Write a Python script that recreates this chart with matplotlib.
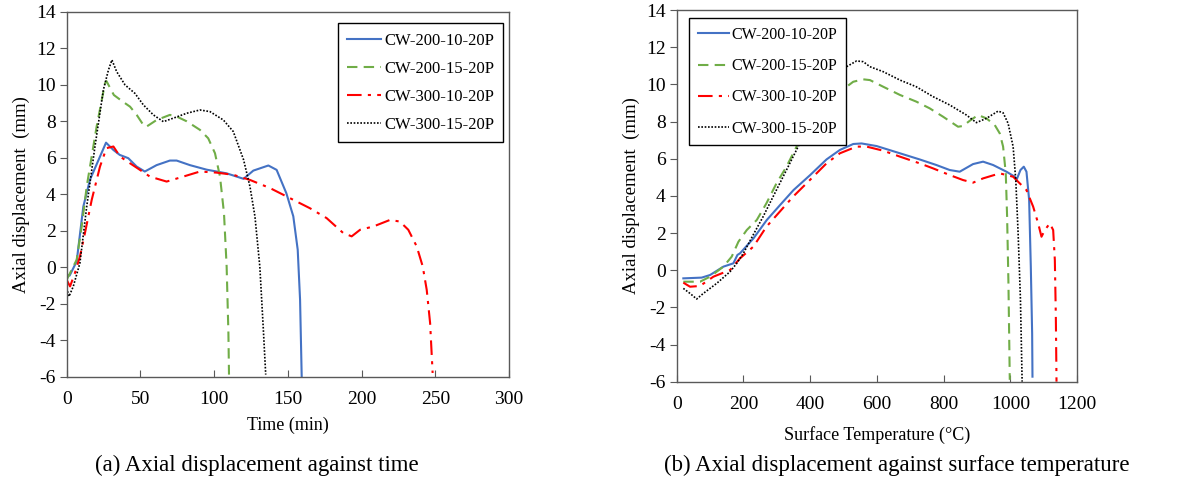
"""Axial displacement of CW specimens against time and surface temperature."""

import matplotlib

matplotlib.use("Agg")
import matplotlib.pyplot as plt

plt.rcParams["font.family"] = ["Liberation Serif", "DejaVu Serif"]
plt.rcParams["axes.unicode_minus"] = False

LABELS = ["CW-200-10-20P", "CW-200-15-20P", "CW-300-10-20P", "CW-300-15-20P"]
COLORS = ["#4472C4", "#70AD47", "#FF0000", "#000000"]
STYLES = ["-", (0, (5, 3)), (0, (7, 3, 1.5, 3)), (0, (1, 1))]
WIDTHS = [1.5, 1.5, 1.5, 1.2]

# (a) time (min) vs axial displacement (mm)
t_200_10 = [0, 2, 6.8, 11.3, 15.8, 26.7, 31.7, 36, 41.8, 47.5, 53, 61, 70, 74.6,
            83.6, 95, 108.5, 120, 126.6, 136.8, 142.4, 149, 153.7, 156.7, 158.3, 159.4]
d_200_10 = [-0.4, -0.45, 0.33, 3.33, 4.8, 6.83, 6.43, 6.16, 5.98, 5.52, 5.25, 5.6, 5.85, 5.85,
            5.6, 5.35, 5.15, 4.85, 5.3, 5.58, 5.34, 4.06, 2.8, 0.97, -1.77, -5.96]

t_200_15 = [0, 6.8, 10.2, 13.6, 20.3, 26, 27, 32, 38, 43, 47.5, 52, 54, 61, 70, 74.6,
            81.4, 90.4, 96, 100.6, 104, 106.7, 108.5, 109.7, 110.1]
d_200_15 = [-0.68, 0.42, 2.24, 4.43, 7.7, 10.08, 10.2, 9.44, 9.08, 8.8, 8.35, 7.8, 7.7, 8.07, 8.35, 8.26,
            8.0, 7.53, 7.07, 6.25, 4.97, 2.97, 0.05, -3.6, -5.87]

t_300_10 = [0, 2.3, 5.6, 9, 12.4, 17, 22.6, 27, 31.7, 36.2, 43, 49.7, 56.5, 67.8, 79, 90.4,
            101.7, 113, 124.3, 138, 151.5, 165, 176.3, 187.6, 193.3, 199, 208, 219.3, 226,
            231.7, 237.4, 241.5, 244.2, 246.5, 248.2]
d_300_10 = [-0.68, -1.04, -0.31, 0.6, 1.88, 3.7, 5.52, 6.53, 6.62, 6.07, 5.7, 5.34, 4.97, 4.7, 4.97, 5.25,
            5.19, 5.07, 4.79, 4.34, 3.79, 3.24, 2.7, 1.88, 1.7, 2.06, 2.24, 2.6, 2.51,
            2.06, 1.15, 0.05, -1.23, -3.05, -5.78]

t_300_15 = [0, 1.6, 4.5, 9, 13.6, 19.2, 24.9, 28.3, 30.7, 33.9, 39.6, 46.3, 52, 58.8, 65.6,
            72.3, 81.4, 90.4, 97.2, 106.3, 113, 120, 124.3, 127.7, 131, 133.4, 135]
d_300_15 = [-1.13, -1.59, -1.04, 0.24, 3.33, 6.62, 9.72, 10.8, 11.36, 10.72, 9.99, 9.53, 8.9, 8.35, 7.98,
            8.17, 8.44, 8.62, 8.53, 8.07, 7.44, 5.89, 4.43, 2.79, 0.05, -3.41, -5.87]

# (b) surface temperature (degC) vs axial displacement (mm)
T_200_10 = [20, 75, 100, 140, 170, 182, 190, 230, 270, 310, 350, 400, 449, 489, 529, 554,
            599, 669, 728, 778, 818, 848, 888, 918, 948, 988, 1013, 1018, 1030, 1040, 1048,
            1056, 1061, 1065, 1066]
e_200_10 = [-0.44, -0.4, -0.26, 0.19, 0.37, 0.82, 0.91, 1.71, 2.7, 3.51, 4.31, 5.12, 5.96, 6.47, 6.79, 6.82,
            6.68, 6.29, 5.96, 5.66, 5.39, 5.3, 5.71, 5.84, 5.66, 5.3, 5.03, 4.85, 5.39, 5.57, 5.3,
            3.78, 0.19, -3.4, -5.73]

T_200_15 = [20, 70, 100, 140, 165, 185, 210, 240, 269, 299, 329, 369, 420, 489, 529, 559, 579,
            619, 669, 718, 758, 798, 843, 858, 878, 903, 928, 953, 968, 978, 986, 990, 994, 998]
e_200_15 = [-0.62, -0.62, -0.35, 0.19, 0.73, 1.53, 2.16, 2.7, 3.6, 4.67, 5.57, 7.0, 8.3, 9.6, 10.14, 10.27, 10.23,
            9.87, 9.43, 9.07, 8.71, 8.26, 7.72, 7.76, 8.04, 8.35, 8.17, 7.81, 7.36, 6.65, 5.21, 2.88, -0.7, -5.9]

T_300_10 = [20, 40, 70, 110, 160, 190, 230, 269, 309, 349, 399, 449, 489, 539, 569, 619, 669,
            728, 768, 818, 858, 888, 918, 968, 1008, 1023, 1048, 1068, 1083, 1093, 1103, 1118,
            1128, 1133, 1136, 1138]
e_300_10 = [-0.67, -0.89, -0.85, -0.35, 0.01, 0.64, 1.27, 2.34, 3.15, 3.96, 4.85, 5.75, 6.29, 6.65, 6.65, 6.43, 6.11,
            5.75, 5.48, 5.12, 4.85, 4.71, 4.94, 5.21, 5.03, 4.76, 4.31, 3.42, 2.52, 1.8, 2.16, 2.52,
            2.16, 0.55, -2.5, -6.0]

T_300_15 = [20, 40, 60, 80, 120, 160, 180, 200, 229, 259, 289, 329, 369, 430, 484, 509, 539, 559,
            579, 619, 669, 718, 768, 818, 868, 898, 928, 963, 978, 993, 1008, 1016, 1023, 1030, 1035]
e_300_15 = [-0.98, -1.25, -1.55, -1.25, -0.71, -0.08, 0.37, 0.91, 1.89, 2.88, 3.96, 5.39, 6.83, 8.8, 10.5, 10.95, 11.26, 11.22,
            10.95, 10.68, 10.23, 9.87, 9.34, 8.89, 8.35, 7.94, 8.17, 8.56, 8.47, 7.9, 6.65, 4.85, 1.98, -1.6, -6.0]

SPINE = "#595959"


def _style(ax, xlim, xticks):
    ax.set_xlim(*xlim)
    ax.set_ylim(-6, 14)
    ax.set_xticks(xticks)
    ax.set_yticks(range(-6, 15, 2))
    for s in ax.spines.values():
        s.set_color(SPINE)
        s.set_linewidth(1.0)
    ax.tick_params(axis="x", direction="in", length=5, color=SPINE, labelsize=14, pad=10)
    ax.tick_params(axis="y", direction="out", length=5, color=SPINE, labelsize=14, pad=3)


def _legend(ax, anchor, size, hl, spacing):
    leg = ax.legend(loc="upper left", bbox_to_anchor=anchor, fontsize=size, frameon=True,
                    fancybox=False, framealpha=1, handlelength=hl, handletextpad=0.2,
                    borderpad=0.55, labelspacing=spacing, borderaxespad=0)
    leg.get_frame().set_edgecolor("black")
    leg.get_frame().set_linewidth(1.0)


fig = plt.figure(figsize=(11.84, 4.84), dpi=100)
ax1 = fig.add_axes([0.0563, 0.2211, 0.3736, 0.7547])
ax2 = fig.add_axes([0.5715, 0.2114, 0.3383, 0.7679])

series_a = [(t_200_10, d_200_10), (t_200_15, d_200_15), (t_300_10, d_300_10), (t_300_15, d_300_15)]
series_b = [(T_200_10, e_200_10), (T_200_15, e_200_15), (T_300_10, e_300_10), (T_300_15, e_300_15)]

for (x, y), lab, c, ls, lw in zip(series_a, LABELS, COLORS, STYLES, WIDTHS):
    ax1.plot(x, y, color=c, linestyle=ls, linewidth=lw, label=lab)
for (x, y), lab, c, ls, lw in zip(series_b, LABELS, COLORS, STYLES, WIDTHS):
    ax2.plot(x, y, color=c, linestyle=ls, linewidth=lw, label=lab)

_style(ax1, (0, 300), range(0, 301, 50))
_style(ax2, (0, 1200), range(0, 1201, 200))

ax1.set_xlabel("Time (min)", fontsize=13, labelpad=6)
ax2.set_xlabel("Surface Temperature (\u00b0C)", fontsize=13, labelpad=10)
ax1.set_ylabel("Axial displacement  (mm)", fontsize=13.5, labelpad=4)
ax2.set_ylabel("Axial displacement  (mm)", fontsize=13.5, labelpad=4)

_legend(ax1, (0.614, 0.968), 12, 2.0, 0.72)
_legend(ax2, (0.032, 0.978), 11.5, 1.9, 0.95)

fig.text(0.217, 0.039, "(a) Axial displacement against time", ha="center", va="center", fontsize=16.5)
fig.text(0.757, 0.039, "(b) Axial displacement against surface temperature", ha="center", va="center",
         fontsize=16.5)

fig.savefig("out.png", dpi=100)
